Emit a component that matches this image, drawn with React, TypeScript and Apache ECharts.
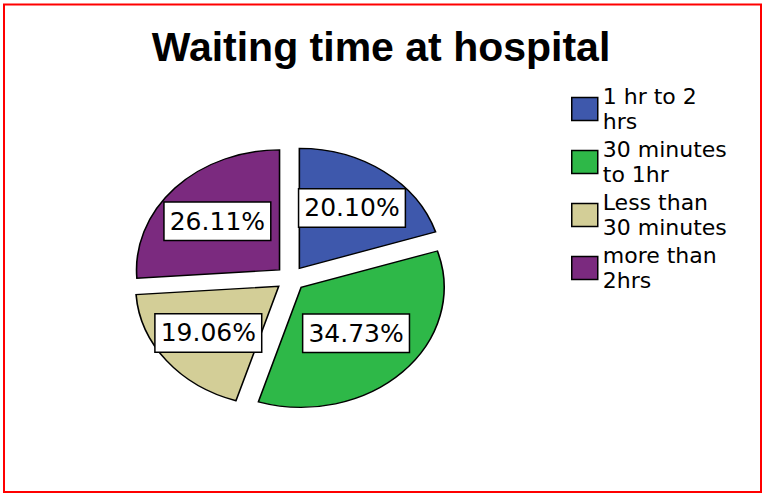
import React, { useEffect, useRef } from 'react';
import * as echarts from 'echarts';

const categories = ['1 hr to 2 hrs', '30 minutes to 1hr', 'Less than 30 minutes', 'more than 2hrs'];
const percentages = [20.10, 34.73, 19.06, 26.11];
const sliceColors = ['#3e58ac', '#2eb848', '#d3ce97', '#7b2a7f'];
const titleText = 'Waiting time at hospital';

// layout of the (elliptical, exploded) pie
const CX = 290.5;
const CY = 278.5;
const RX = 143;
const RY = 120;
const EXPLODE = 15;
const LEGEND_WRAP_CHARS = 10;

function wrapWords(s: string, max: number): string {
  const words = s.split(' ');
  const lines: string[] = [];
  let cur = '';
  for (const w of words) {
    if (cur && (cur + ' ' + w).length > max) {
      lines.push(cur);
      cur = w;
    } else {
      cur = cur ? cur + ' ' + w : w;
    }
  }
  if (cur) lines.push(cur);
  return lines.join('\n');
}

export default function App() {
  const ref = useRef<HTMLDivElement>(null);
  useEffect(() => {
    const chart = echarts.init(ref.current as HTMLDivElement, null, { renderer: 'svg' });
    const total = percentages.reduce((a, b) => a + b, 0);
    const k = RY / RX;
    const series = categories.map((name, i) => ({
      type: 'custom',
      name,
      coordinateSystem: 'none',
      data: [percentages[i]],
      itemStyle: { color: sliceColors[i] },
      renderItem: (params: any, api: any) => {
        const v = api.value(0) as number;
        const before = percentages.slice(0, i).reduce((a, b) => a + b, 0);
        const start = -Math.PI / 2 + (2 * Math.PI * before) / total;
        const end = start + (2 * Math.PI * v) / total;
        const mid = (start + end) / 2;
        const half = (end - start) / 2;
        const ux = Math.cos(mid);
        const uy = Math.sin(mid) * k;
        // label at the sector's centroid
        const dist = (2 * RX * Math.sin(half)) / (3 * half);
        return {
          type: 'group',
          x: ux * EXPLODE,
          y: uy * EXPLODE,
          children: [
            {
              type: 'sector',
              shape: { cx: CX, cy: CY, r: RX, r0: 0, startAngle: start, endAngle: end, clockwise: true },
              originX: CX,
              originY: CY,
              scaleY: k,
              style: { fill: api.visual('color'), stroke: '#000', lineWidth: 1.6, strokeNoScale: true },
            },
            {
              type: 'text',
              x: CX + ux * dist,
              y: CY + uy * dist,
              style: {
                text: v.toFixed(2) + '%',
                fontSize: 25,
                fontFamily: '"DejaVu Sans", sans-serif',
                fill: '#000',
                align: 'center',
                verticalAlign: 'middle',
                backgroundColor: '#fff',
                borderColor: '#000',
                borderWidth: 1.5,
                padding: [6, 5],
              },
            },
          ],
        };
      },
    }));

    chart.setOption({
      animation: false,
      backgroundColor: '#fff',
      title: {
        text: titleText,
        left: 'center',
        top: 26,
        padding: 0,
        textStyle: {
          fontSize: 41,
          fontWeight: 'bold',
          fontFamily: '"Liberation Sans", Arial, sans-serif',
          color: '#000',
        },
      },
      legend: {
        orient: 'vertical',
        left: 571,
        top: 84,
        padding: 0,
        itemWidth: 26,
        itemHeight: 23,
        itemGap: 3,
        icon: 'rect',
        data: categories,
        formatter: (name: string) => wrapWords(name, LEGEND_WRAP_CHARS),
        itemStyle: { borderColor: '#000', borderWidth: 1.5 },
        textStyle: {
          fontSize: 22,
          lineHeight: 25,
          fontFamily: '"DejaVu Sans", sans-serif',
          color: '#000',
        },
      },
      graphic: [
        {
          type: 'rect',
          shape: { x: 4, y: 4.5, width: 757, height: 487.5 },
          style: { fill: 'none', stroke: '#ff0000', lineWidth: 2 },
          silent: true,
        },
      ],
      series,
    } as any);
    return () => chart.dispose();
  }, []);
  return (
    <div
      ref={ref}
      style={{ position: 'fixed', left: 0, top: 0, width: 762, height: 494, background: '#fff' }}
    />
  );
}
